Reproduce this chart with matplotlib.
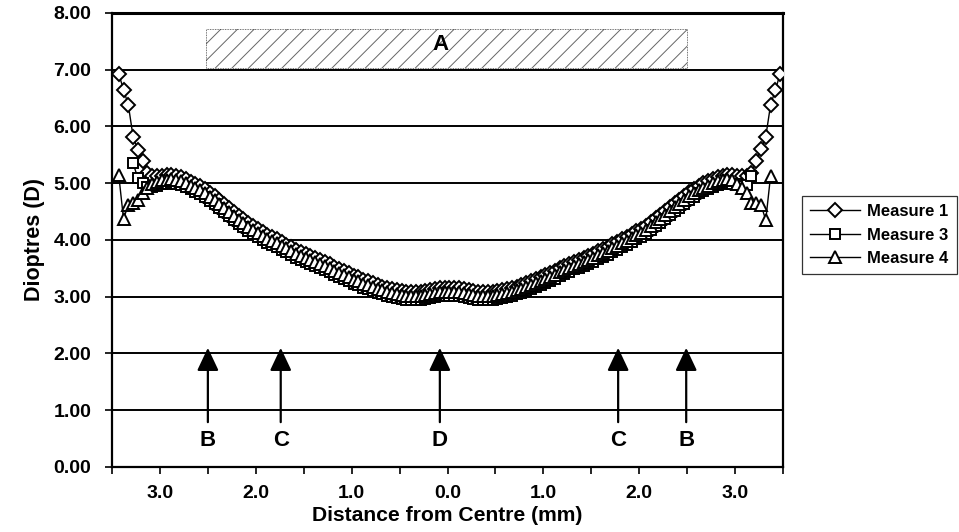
import matplotlib
matplotlib.use("Agg")
import matplotlib.pyplot as plt
from matplotlib.patches import Rectangle
import numpy as np

plt.rcParams['font.family'] = ['Liberation Sans', 'DejaVu Sans']
plt.rcParams['font.weight'] = 'bold'
plt.rcParams['hatch.linewidth'] = 0.7

nan = np.nan

# dioptres, one value every 0.05 mm starting at -3.43 mm
measure_1 = [6.93, 6.65, 6.38, 5.82, 5.58, 5.40, 5.18, 5.13,
             5.12, 5.13, 5.14, 5.14, 5.13, 5.11, 5.08, 5.03, 4.99, 4.95,
             4.89, 4.83, 4.77, 4.70, 4.64, 4.57, 4.50, 4.43, 4.37, 4.30,
             4.24, 4.19, 4.14, 4.09, 4.05, 4.01, 3.96, 3.92, 3.87, 3.83,
             3.79, 3.75, 3.71, 3.68, 3.64, 3.61, 3.57, 3.53, 3.49, 3.45,
             3.41, 3.37, 3.34, 3.30, 3.27, 3.24, 3.21, 3.18, 3.15, 3.13,
             3.11, 3.10, 3.09, 3.08, 3.08, 3.09, 3.10, 3.12, 3.14, 3.15,
             3.16,
             3.16,
             3.16, 3.15, 3.14, 3.12, 3.10, 3.09, 3.08, 3.08, 3.09, 3.10,
             3.11, 3.13, 3.15, 3.18, 3.21, 3.24, 3.27, 3.31, 3.34, 3.38,
             3.42, 3.46, 3.50, 3.54, 3.58, 3.62, 3.65, 3.69, 3.72, 3.76,
             3.80, 3.84, 3.88, 3.93, 3.97, 4.02, 4.06, 4.10, 4.15, 4.20,
             4.25, 4.31, 4.38, 4.44, 4.51, 4.58, 4.65, 4.71, 4.78, 4.84,
             4.90, 4.96, 5.00, 5.04, 5.08, 5.11, 5.13, 5.14, 5.14, 5.13,
             5.12,
             5.13, 5.18, 5.39, 5.60, 5.82, 6.38, 6.64, 6.93]

measure_3 = [nan, nan, nan, 5.35, 5.09, 5.00, 4.94, 4.94,
             4.96, 4.98, 4.99, 5.00, 4.99, 4.97, 4.94, 4.89, 4.85, 4.81,
             4.75, 4.69, 4.63, 4.56, 4.50, 4.43, 4.36, 4.29, 4.23, 4.16,
             4.10, 4.05, 4.00, 3.95, 3.91, 3.87, 3.82, 3.78, 3.73, 3.69,
             3.65, 3.61, 3.57, 3.54, 3.50, 3.47, 3.43, 3.39, 3.35, 3.31,
             3.27, 3.23, 3.20, 3.16, 3.13, 3.10, 3.07, 3.04, 3.01, 2.99,
             2.97, 2.96, 2.95, 2.94, 2.94, 2.95, 2.96, 2.98, 3.00, 3.01,
             3.02,
             3.02,
             3.02, 3.01, 3.00, 2.98, 2.96, 2.95, 2.94, 2.94, 2.95, 2.96,
             2.97, 2.99, 3.01, 3.04, 3.07, 3.10, 3.13, 3.17, 3.20, 3.24,
             3.28, 3.32, 3.36, 3.40, 3.44, 3.48, 3.51, 3.55, 3.58, 3.62,
             3.66, 3.70, 3.74, 3.79, 3.83, 3.88, 3.92, 3.96, 4.01, 4.06,
             4.11, 4.17, 4.24, 4.30, 4.37, 4.44, 4.51, 4.57, 4.64, 4.70,
             4.76, 4.82, 4.86, 4.90, 4.94, 4.97, 4.99, 5.00, 4.99, 4.98,
             4.96,
             4.97, 5.13, nan, nan, nan, nan, nan, nan]

measure_4 = [5.15, 4.37, 4.62, 4.66, 4.70, 4.82, 4.92, 4.98,
             5.03, 5.05,
             5.06, 5.07, 5.06, 5.04, 5.01, 4.96, 4.92, 4.88, 4.82, 4.76,
             4.70, 4.63, 4.57, 4.50, 4.43, 4.36, 4.30, 4.23, 4.17, 4.12,
             4.07, 4.02, 3.98, 3.94, 3.89, 3.85, 3.80, 3.76, 3.72, 3.68,
             3.64, 3.61, 3.57, 3.54, 3.50, 3.46, 3.42, 3.38, 3.34, 3.30,
             3.27, 3.23, 3.20, 3.17, 3.14, 3.11, 3.08, 3.06, 3.04, 3.03,
             3.02, 3.01, 3.01, 3.02, 3.03, 3.05, 3.07, 3.08, 3.09,
             3.09,
             3.09, 3.08, 3.07, 3.05, 3.03, 3.02, 3.01, 3.01, 3.02,
             3.03, 3.04, 3.06, 3.08, 3.11, 3.14, 3.17, 3.21, 3.24, 3.28,
             3.31, 3.35, 3.39, 3.43, 3.47, 3.51, 3.55, 3.58, 3.62, 3.65,
             3.69, 3.73, 3.77, 3.81, 3.86, 3.90, 3.95, 3.99, 4.03, 4.08,
             4.13, 4.18, 4.24, 4.31, 4.37, 4.44, 4.51, 4.58, 4.64, 4.71,
             4.77, 4.83, 4.88, 4.92, 4.96, 5.01, 5.04, 5.06, 5.07, 5.06,
             4.98, 4.92, 4.82, 4.66, 4.65, 4.62, 4.35, 5.13,
             nan, nan]

series_names = ['Measure 1', 'Measure 3', 'Measure 4']
series_markers = ['D', 's', '^']

x_ticks = [-3.5, -3.0, -2.5, -2.0, -1.5, -1.0, -0.5, 0.0,
           0.5, 1.0, 1.5, 2.0, 2.5, 3.0, 3.5]
x_tick_labels = ['', '3.0', '', '2.0', '', '1.0', '', '0.0',
                 '', '1.0', '', '2.0', '', '3.0', '']
y_ticks = [0, 1, 2, 3, 4, 5, 6, 7, 8]

# zone markers along the profile
arrow_x = [-2.50, -1.74, -0.08, 1.78, 2.49]
arrow_labels = ['B', 'C', 'D', 'C', 'B']
zone_a = (-2.52, 2.50, 7.03, 7.72)

x = np.arange(len(measure_1)) * 0.05 - 3.43

fig = plt.figure(figsize=(9.59, 5.32), dpi=100)
ax = fig.add_axes([0.1168, 0.1222, 0.6997, 0.8534])

for vals, name, mk, ms in zip([measure_1, measure_3, measure_4], series_names,
                              series_markers, [7.0, 7.6, 8.6]):
    ax.plot(x, vals, color='black', lw=1.0, marker=mk, ms=ms, mfc='white',
            mec='black', mew=1.4, label=name, zorder=3)

ax.add_patch(Rectangle((zone_a[0], zone_a[2]), zone_a[1] - zone_a[0],
                       zone_a[3] - zone_a[2], facecolor='white',
                       edgecolor='#666666', hatch='//', lw=0, zorder=2))
ax.add_patch(Rectangle((zone_a[0], zone_a[2]), zone_a[1] - zone_a[0],
                       zone_a[3] - zone_a[2], fill=False, edgecolor='#444444',
                       lw=0.6, ls=(0, (1, 1)), zorder=2))
ax.text((zone_a[0] + zone_a[1]) / 2 - 0.06, 7.44, 'A', ha='center', va='center',
        fontsize=16, fontweight='bold', zorder=4)

for ax_x, lab in zip(arrow_x, arrow_labels):
    ax.annotate('', xy=(ax_x, 2.10), xytext=(ax_x, 0.79),
                arrowprops=dict(arrowstyle='-|>,head_length=0.7,head_width=0.33',
                                color='black', lw=1.6, mutation_scale=20,
                                shrinkA=0, shrinkB=0), zorder=4)
    ax.text(ax_x, 0.47, lab, ha='center', va='center', fontsize=16,
            fontweight='bold')

ax.set_xlim(-3.5, 3.5)
ax.set_ylim(0, 8)
ax.set_xticks(x_ticks)
ax.set_xticklabels(x_tick_labels)
ax.set_yticks(y_ticks)
ax.set_yticklabels(['%.2f' % v for v in y_ticks])
ax.grid(axis='y', color='black', lw=1.4, zorder=1)
ax.set_axisbelow(True)
for sp in ax.spines.values():
    sp.set_linewidth(1.6)
ax.spines['top'].set_linewidth(2.2)
ax.tick_params(axis='both', direction='out', length=5, width=1.2,
               labelsize=14, colors='black')
ax.tick_params(axis='x', pad=8)
ax.tick_params(axis='y', pad=10)
ax.set_xlabel('Distance from Centre (mm)', fontsize=15.2, fontweight='bold',
              labelpad=3)
ax.set_ylabel('Dioptres (D)', fontsize=15.5, fontweight='bold', labelpad=6)

leg = fig.legend(loc='center left', bbox_to_anchor=(802 / 959, 1 - 235 / 532),
                 frameon=True, fancybox=False, edgecolor='black',
                 prop={'size': 12, 'weight': 'bold'}, handlelength=3.0,
                 borderpad=0.5, labelspacing=0.5, handletextpad=0.4,
                 borderaxespad=0)
leg.get_frame().set_linewidth(0.9)

fig.savefig('out.png', dpi=100)
